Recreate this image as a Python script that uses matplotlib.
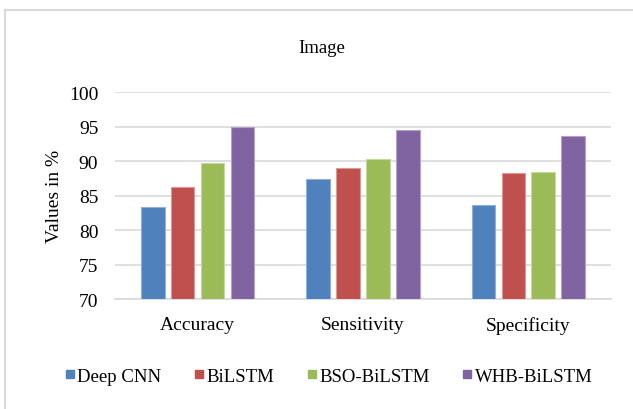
import numpy as np
import matplotlib.pyplot as plt
from matplotlib.lines import Line2D

plt.rcParams['font.family'] = ['Liberation Serif', 'DejaVu Serif']

categories = ["Accuracy", "Sensitivity", "Specificity"]
methods = ["Deep CNN", "BiLSTM", "BSO-BiLSTM", "WHB-BiLSTM"]
deep_cnn = [83.3, 87.4, 83.7]
bilstm = [86.2, 89.0, 88.3]
bso_bilstm = [89.7, 90.3, 88.5]
whb_bilstm = [95.0, 94.6, 93.6]
colors = ["#4F81BD", "#C0504D", "#9BBB59", "#8064A2"]
edges = ["#8FB0DA", "#DC9896", "#C4D89E", "#B4A2CA"]

series = [deep_cnn, bilstm, bso_bilstm, whb_bilstm]

fig = plt.figure(figsize=(6.33, 4.10), dpi=100)
ax = fig.add_axes([0.1817, 0.268, 0.7833, 0.5045])

x = np.arange(len(categories))
pitch = 0.181
width = 0.142
for i, vals in enumerate(series):
    ax.bar(x + (i - 1.5) * pitch, vals, width, bottom=0, color=colors[i],
           edgecolor=edges[i], linewidth=0.8, label=methods[i], zorder=3)

ax.set_ylim(70, 100)
ax.set_xlim(-0.5, 2.5)
ax.set_yticks(np.arange(70, 101, 5))
ax.set_xticks(x)
ax.set_xticklabels(categories, fontsize=14)
ax.tick_params(axis='y', labelsize=14, length=0, pad=12)
ax.tick_params(axis='x', length=0, pad=12)
ax.yaxis.grid(True, color="#D9D9D9", linewidth=1.2, zorder=0)
for s in ["left", "right", "top"]:
    ax.spines[s].set_visible(False)
ax.spines["bottom"].set_color("#D9D9D9")
ax.spines["bottom"].set_linewidth(1.2)

fig.text(0.509, 0.882, "Image", ha="center", va="center", fontsize=13.5)
fig.text(0.086, 0.52, "Values in %", rotation=90, ha="center", va="center", fontsize=14)

handles = [Line2D([], [], marker="s", linestyle="none", markersize=6,
                  markerfacecolor=c, markeredgecolor=c) for c in colors]
fig.legend(handles, methods, loc="center", bbox_to_anchor=(0.517, 0.08), ncol=4,
           frameon=False, fontsize=13.5, handletextpad=0.0, columnspacing=1.6,
           handlelength=0.8)

# chart area border (left and top edges visible)
fig.add_artist(Line2D([0.008, 0.008], [0, 0.973], transform=fig.transFigure,
                      color="#D9D9D9", linewidth=1.5))
fig.add_artist(Line2D([0.008, 1], [0.973, 0.973], transform=fig.transFigure,
                      color="#D9D9D9", linewidth=1.5))

plt.savefig("out.png", dpi=100)
